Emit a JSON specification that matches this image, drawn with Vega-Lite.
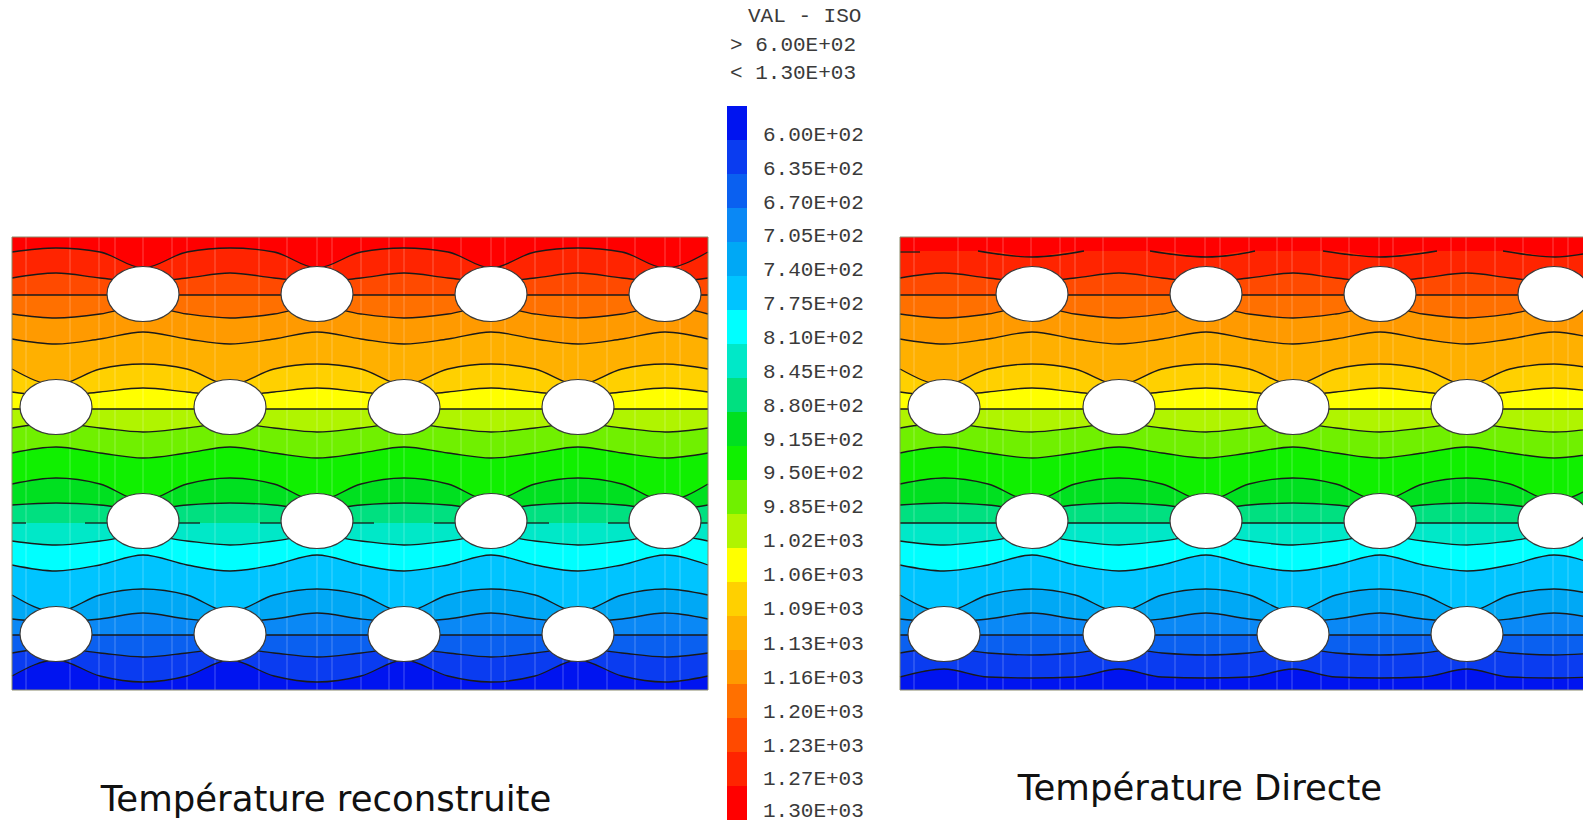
{"$schema":"https://vega.github.io/schema/vega-lite/v6.json","width":1583,"height":822,"padding":0,"autosize":{"type":"none"},"background":"white","config":{"view":{"stroke":null}},
"datasets":{
"contours":[
{"panel":"L","x":12,"c00":237,"c01":252,"c02":278,"c03":295,"c04":314,"c05":339,"c06":369,"c07":392,"c08":409,"c09":428,"c10":453,"c11":484,"c12":505,"c13":523,"c14":541,"c15":565,"c16":595,"c17":619,"c18":635,"c19":653,"c20":676},
{"panel":"L","x":56,"c00":237,"c01":248,"c02":273,"c03":295,"c04":318,"c05":344,"c06":385,"c07":396,"c08":409,"c09":423,"c10":447,"c11":478,"c12":503,"c13":523,"c14":545,"c15":571,"c16":612,"c17":622,"c18":635,"c19":648,"c20":660},
{"panel":"L","x":100,"c00":237,"c01":252,"c02":278,"c03":295,"c04":314,"c05":339,"c06":369,"c07":392,"c08":409,"c09":428,"c10":453,"c11":484,"c12":505,"c13":523,"c14":541,"c15":565,"c16":595,"c17":619,"c18":635,"c19":653,"c20":676},
{"panel":"L","x":143,"c00":237,"c01":268,"c02":282,"c03":295,"c04":306,"c05":332,"c06":364,"c07":388,"c08":409,"c09":432,"c10":458,"c11":501,"c12":510,"c13":523,"c14":535,"c15":555,"c16":589,"c17":613,"c18":635,"c19":657,"c20":682},
{"panel":"L","x":187,"c00":237,"c01":252,"c02":278,"c03":295,"c04":314,"c05":339,"c06":369,"c07":392,"c08":409,"c09":428,"c10":453,"c11":484,"c12":505,"c13":523,"c14":541,"c15":565,"c16":595,"c17":619,"c18":635,"c19":653,"c20":676},
{"panel":"L","x":230,"c00":237,"c01":248,"c02":273,"c03":295,"c04":318,"c05":344,"c06":385,"c07":396,"c08":409,"c09":423,"c10":447,"c11":478,"c12":503,"c13":523,"c14":545,"c15":571,"c16":612,"c17":622,"c18":635,"c19":648,"c20":660},
{"panel":"L","x":274,"c00":237,"c01":252,"c02":278,"c03":295,"c04":314,"c05":339,"c06":369,"c07":392,"c08":409,"c09":428,"c10":453,"c11":484,"c12":505,"c13":523,"c14":541,"c15":565,"c16":595,"c17":619,"c18":635,"c19":653,"c20":676},
{"panel":"L","x":317,"c00":237,"c01":268,"c02":282,"c03":295,"c04":306,"c05":332,"c06":364,"c07":388,"c08":409,"c09":432,"c10":458,"c11":501,"c12":510,"c13":523,"c14":535,"c15":555,"c16":589,"c17":613,"c18":635,"c19":657,"c20":682},
{"panel":"L","x":361,"c00":237,"c01":252,"c02":278,"c03":295,"c04":314,"c05":339,"c06":369,"c07":392,"c08":409,"c09":428,"c10":453,"c11":484,"c12":505,"c13":523,"c14":541,"c15":565,"c16":595,"c17":619,"c18":635,"c19":653,"c20":676},
{"panel":"L","x":404,"c00":237,"c01":248,"c02":273,"c03":295,"c04":318,"c05":344,"c06":385,"c07":396,"c08":409,"c09":423,"c10":447,"c11":478,"c12":503,"c13":523,"c14":545,"c15":571,"c16":612,"c17":622,"c18":635,"c19":648,"c20":660},
{"panel":"L","x":448,"c00":237,"c01":252,"c02":278,"c03":295,"c04":314,"c05":339,"c06":369,"c07":392,"c08":409,"c09":428,"c10":453,"c11":484,"c12":505,"c13":523,"c14":541,"c15":565,"c16":595,"c17":619,"c18":635,"c19":653,"c20":676},
{"panel":"L","x":491,"c00":237,"c01":268,"c02":282,"c03":295,"c04":306,"c05":332,"c06":364,"c07":388,"c08":409,"c09":432,"c10":458,"c11":501,"c12":510,"c13":523,"c14":535,"c15":555,"c16":589,"c17":613,"c18":635,"c19":657,"c20":682},
{"panel":"L","x":535,"c00":237,"c01":252,"c02":278,"c03":295,"c04":314,"c05":339,"c06":369,"c07":392,"c08":409,"c09":428,"c10":453,"c11":484,"c12":505,"c13":523,"c14":541,"c15":565,"c16":595,"c17":619,"c18":635,"c19":653,"c20":676},
{"panel":"L","x":578,"c00":237,"c01":248,"c02":273,"c03":295,"c04":318,"c05":344,"c06":385,"c07":396,"c08":409,"c09":423,"c10":447,"c11":478,"c12":503,"c13":523,"c14":545,"c15":571,"c16":612,"c17":622,"c18":635,"c19":648,"c20":660},
{"panel":"L","x":622,"c00":237,"c01":252,"c02":278,"c03":295,"c04":314,"c05":339,"c06":369,"c07":392,"c08":409,"c09":428,"c10":453,"c11":484,"c12":505,"c13":523,"c14":541,"c15":565,"c16":595,"c17":619,"c18":635,"c19":653,"c20":676},
{"panel":"L","x":665,"c00":237,"c01":268,"c02":282,"c03":295,"c04":306,"c05":332,"c06":364,"c07":388,"c08":409,"c09":432,"c10":458,"c11":501,"c12":510,"c13":523,"c14":535,"c15":555,"c16":589,"c17":613,"c18":635,"c19":657,"c20":682},
{"panel":"L","x":708,"c00":237,"c01":252,"c02":278,"c03":295,"c04":314,"c05":339,"c06":369,"c07":392,"c08":409,"c09":428,"c10":453,"c11":484,"c12":505,"c13":523,"c14":541,"c15":565,"c16":595,"c17":619,"c18":635,"c19":653,"c20":676},
{"panel":"R","x":900,"c00":237,"c01":251,"c02":278,"c03":295,"c04":314,"c05":339,"c06":369,"c07":392,"c08":409,"c09":428,"c10":453,"c11":484,"c12":505,"c13":523,"c14":541,"c15":565,"c16":595,"c17":619,"c18":635,"c19":653,"c20":677},
{"panel":"R","x":944,"c00":237,"c01":251,"c02":273,"c03":295,"c04":318,"c05":344,"c06":385,"c07":396,"c08":409,"c09":423,"c10":447,"c11":478,"c12":503,"c13":523,"c14":545,"c15":571,"c16":612,"c17":622,"c18":635,"c19":648,"c20":669},
{"panel":"R","x":988,"c00":237,"c01":251,"c02":278,"c03":295,"c04":314,"c05":339,"c06":369,"c07":392,"c08":409,"c09":428,"c10":453,"c11":484,"c12":505,"c13":523,"c14":541,"c15":565,"c16":595,"c17":619,"c18":635,"c19":653,"c20":677},
{"panel":"R","x":1032,"c00":237,"c01":257,"c02":282,"c03":295,"c04":306,"c05":332,"c06":364,"c07":388,"c08":409,"c09":432,"c10":458,"c11":501,"c12":510,"c13":523,"c14":535,"c15":555,"c16":589,"c17":613,"c18":635,"c19":655,"c20":678},
{"panel":"R","x":1075,"c00":237,"c01":251,"c02":278,"c03":295,"c04":314,"c05":339,"c06":369,"c07":392,"c08":409,"c09":428,"c10":453,"c11":484,"c12":505,"c13":523,"c14":541,"c15":565,"c16":595,"c17":619,"c18":635,"c19":653,"c20":677},
{"panel":"R","x":1119,"c00":237,"c01":251,"c02":273,"c03":295,"c04":318,"c05":344,"c06":385,"c07":396,"c08":409,"c09":423,"c10":447,"c11":478,"c12":503,"c13":523,"c14":545,"c15":571,"c16":612,"c17":622,"c18":635,"c19":648,"c20":669},
{"panel":"R","x":1162,"c00":237,"c01":251,"c02":278,"c03":295,"c04":314,"c05":339,"c06":369,"c07":392,"c08":409,"c09":428,"c10":453,"c11":484,"c12":505,"c13":523,"c14":541,"c15":565,"c16":595,"c17":619,"c18":635,"c19":653,"c20":677},
{"panel":"R","x":1206,"c00":237,"c01":257,"c02":282,"c03":295,"c04":306,"c05":332,"c06":364,"c07":388,"c08":409,"c09":432,"c10":458,"c11":501,"c12":510,"c13":523,"c14":535,"c15":555,"c16":589,"c17":613,"c18":635,"c19":655,"c20":678},
{"panel":"R","x":1249,"c00":237,"c01":251,"c02":278,"c03":295,"c04":314,"c05":339,"c06":369,"c07":392,"c08":409,"c09":428,"c10":453,"c11":484,"c12":505,"c13":523,"c14":541,"c15":565,"c16":595,"c17":619,"c18":635,"c19":653,"c20":677},
{"panel":"R","x":1293,"c00":237,"c01":251,"c02":273,"c03":295,"c04":318,"c05":344,"c06":385,"c07":396,"c08":409,"c09":423,"c10":447,"c11":478,"c12":503,"c13":523,"c14":545,"c15":571,"c16":612,"c17":622,"c18":635,"c19":648,"c20":669},
{"panel":"R","x":1336,"c00":237,"c01":251,"c02":278,"c03":295,"c04":314,"c05":339,"c06":369,"c07":392,"c08":409,"c09":428,"c10":453,"c11":484,"c12":505,"c13":523,"c14":541,"c15":565,"c16":595,"c17":619,"c18":635,"c19":653,"c20":677},
{"panel":"R","x":1380,"c00":237,"c01":257,"c02":282,"c03":295,"c04":306,"c05":332,"c06":364,"c07":388,"c08":409,"c09":432,"c10":458,"c11":501,"c12":510,"c13":523,"c14":535,"c15":555,"c16":589,"c17":613,"c18":635,"c19":655,"c20":678},
{"panel":"R","x":1423,"c00":237,"c01":251,"c02":278,"c03":295,"c04":314,"c05":339,"c06":369,"c07":392,"c08":409,"c09":428,"c10":453,"c11":484,"c12":505,"c13":523,"c14":541,"c15":565,"c16":595,"c17":619,"c18":635,"c19":653,"c20":677},
{"panel":"R","x":1467,"c00":237,"c01":251,"c02":273,"c03":295,"c04":318,"c05":344,"c06":385,"c07":396,"c08":409,"c09":423,"c10":447,"c11":478,"c12":503,"c13":523,"c14":545,"c15":571,"c16":612,"c17":622,"c18":635,"c19":648,"c20":669},
{"panel":"R","x":1510,"c00":237,"c01":251,"c02":278,"c03":295,"c04":314,"c05":339,"c06":369,"c07":392,"c08":409,"c09":428,"c10":453,"c11":484,"c12":505,"c13":523,"c14":541,"c15":565,"c16":595,"c17":619,"c18":635,"c19":653,"c20":677},
{"panel":"R","x":1554,"c00":237,"c01":257,"c02":282,"c03":295,"c04":306,"c05":332,"c06":364,"c07":388,"c08":409,"c09":432,"c10":458,"c11":501,"c12":510,"c13":523,"c14":535,"c15":555,"c16":589,"c17":613,"c18":635,"c19":655,"c20":678},
{"panel":"R","x":1597,"c00":237,"c01":251,"c02":278,"c03":295,"c04":314,"c05":339,"c06":369,"c07":392,"c08":409,"c09":428,"c10":453,"c11":484,"c12":505,"c13":523,"c14":541,"c15":565,"c16":595,"c17":619,"c18":635,"c19":653,"c20":677}
],
"segments":[
{"seg":"a1","x":12,"y":523},{"seg":"a1","x":26,"y":523},{"seg":"a2","x":85,"y":523},{"seg":"a2","x":108,"y":523},{"seg":"a3","x":178,"y":523},{"seg":"a3","x":200,"y":523},{"seg":"a4","x":260,"y":523},{"seg":"a4","x":282,"y":523},{"seg":"a5","x":352,"y":523},{"seg":"a5","x":374,"y":523},{"seg":"a6","x":434,"y":523},{"seg":"a6","x":456,"y":523},{"seg":"a7","x":527,"y":523},{"seg":"a7","x":549,"y":523},{"seg":"a8","x":608,"y":523},{"seg":"a8","x":630,"y":523},{"seg":"a9","x":701,"y":523},{"seg":"a9","x":708,"y":523},
{"seg":"b","x":900,"y":523},{"seg":"b","x":1583,"y":523},
{"seg":"d0","x":900,"y":252},{"seg":"d0","x":920,"y":252},
{"seg":"d1","x":978,"y":251},{"seg":"d1","x":1005,"y":255},{"seg":"d1","x":1032,"y":257},{"seg":"d1","x":1059,"y":255},{"seg":"d1","x":1084,"y":251},
{"seg":"d2","x":1150,"y":251},{"seg":"d2","x":1178,"y":255},{"seg":"d2","x":1206,"y":257},{"seg":"d2","x":1233,"y":255},{"seg":"d2","x":1255,"y":251},
{"seg":"d3","x":1323,"y":251},{"seg":"d3","x":1352,"y":255},{"seg":"d3","x":1380,"y":257},{"seg":"d3","x":1409,"y":255},{"seg":"d3","x":1437,"y":251},
{"seg":"d4","x":1503,"y":251},{"seg":"d4","x":1530,"y":255},{"seg":"d4","x":1555,"y":257},{"seg":"d4","x":1583,"y":254}
],
"holes":[
{"x":143,"y":294},{"x":317,"y":294},{"x":491,"y":294},{"x":665,"y":294},
{"x":56,"y":407},{"x":230,"y":407},{"x":404,"y":407},{"x":578,"y":407},
{"x":143,"y":521},{"x":317,"y":521},{"x":491,"y":521},{"x":665,"y":521},
{"x":56,"y":634},{"x":230,"y":634},{"x":404,"y":634},{"x":578,"y":634},
{"x":1032,"y":294},{"x":1206,"y":294},{"x":1380,"y":294},{"x":1554,"y":294},
{"x":944,"y":407},{"x":1119,"y":407},{"x":1293,"y":407},{"x":1467,"y":407},
{"x":1032,"y":521},{"x":1206,"y":521},{"x":1380,"y":521},{"x":1554,"y":521},
{"x":944,"y":634},{"x":1119,"y":634},{"x":1293,"y":634},{"x":1467,"y":634}
],
"mesh":[{"x":26},{"x":70},{"x":99},{"x":115},{"x":143},{"x":172},{"x":187},{"x":215},{"x":259},{"x":287},{"x":317},{"x":332},{"x":361},{"x":389},{"x":404},{"x":433},{"x":461},{"x":491},{"x":505},{"x":535},{"x":563},{"x":578},{"x":607},{"x":635},{"x":665},{"x":680},
{"x":914},{"x":958},{"x":987},{"x":1003},{"x":1031},{"x":1060},{"x":1075},{"x":1103},{"x":1147},{"x":1175},{"x":1205},{"x":1220},{"x":1249},{"x":1277},{"x":1292},{"x":1321},{"x":1349},{"x":1379},{"x":1393},{"x":1423},{"x":1451},{"x":1466},{"x":1495},{"x":1523},{"x":1553},{"x":1568}],
"frames":[{"x":12,"x2":708,"y":237,"y2":690},{"x":900,"x2":1584,"y":237,"y2":690}],
"legend":[
{"level":"c20","label":"6.00E+02","y":135,"top":106,"bottom":140},
{"level":"c19","label":"6.35E+02","y":169,"top":140,"bottom":174},
{"level":"c18","label":"6.70E+02","y":203,"top":174,"bottom":208},
{"level":"c17","label":"7.05E+02","y":236,"top":208,"bottom":242},
{"level":"c16","label":"7.40E+02","y":270,"top":242,"bottom":276},
{"level":"c15","label":"7.75E+02","y":304,"top":276,"bottom":310},
{"level":"c14","label":"8.10E+02","y":338,"top":310,"bottom":344},
{"level":"c13","label":"8.45E+02","y":372,"top":344,"bottom":378},
{"level":"c12","label":"8.80E+02","y":406,"top":378,"bottom":412},
{"level":"c11","label":"9.15E+02","y":440,"top":412,"bottom":446},
{"level":"c10","label":"9.50E+02","y":473,"top":446,"bottom":480},
{"level":"c09","label":"9.85E+02","y":507,"top":480,"bottom":514},
{"level":"c08","label":"1.02E+03","y":541,"top":514,"bottom":548},
{"level":"c07","label":"1.06E+03","y":575,"top":548,"bottom":582},
{"level":"c06","label":"1.09E+03","y":609,"top":582,"bottom":616},
{"level":"c05","label":"1.13E+03","y":644,"top":616,"bottom":650},
{"level":"c04","label":"1.16E+03","y":678,"top":650,"bottom":684},
{"level":"c03","label":"1.20E+03","y":712,"top":684,"bottom":718},
{"level":"c02","label":"1.23E+03","y":746,"top":718,"bottom":752},
{"level":"c01","label":"1.27E+03","y":779,"top":752,"bottom":786},
{"level":"c00","label":"1.30E+03","y":811,"top":786,"bottom":820}
],
"header":[{"x":748,"y":16,"label":"VAL - ISO"},{"x":730,"y":45,"label":"> 6.00E+02"},{"x":730,"y":73,"label":"< 1.30E+03"}],
"titles":[{"x":326,"y":800,"label":"Température reconstruite"},{"x":1200,"y":789,"label":"Température Directe"}]
},
"layer":[
{"data":{"name":"contours"},
"transform":[{"fold":["c00","c01","c02","c03","c04","c05","c06","c07","c08","c09","c10","c11","c12","c13","c14","c15","c16","c17","c18","c19","c20"],"as":["level","y"]}],
"mark":{"type":"area","interpolate":"monotone","clip":true},
"encoding":{"x":{"field":"x","type":"quantitative","axis":null,"scale":{"domain":[0,1583],"nice":false,"zero":false}},"y":{"field":"y","type":"quantitative","axis":null,"scale":{"domain":[822,0],"nice":false,"zero":false}},"y2":{"datum":690},"detail":{"field":"panel"},
"color":{"field":"level","type":"nominal","legend":null,"scale":{"domain":["c00","c01","c02","c03","c04","c05","c06","c07","c08","c09","c10","c11","c12","c13","c14","c15","c16","c17","c18","c19","c20"],"range":["#ff0000","#ff2400","#ff4a00","#ff7000","#ff9a00","#ffb000","#ffd000","#ffff00","#b0f400","#70f000","#10f000","#00e020","#00e080","#00e8c8","#00ffff","#00c4ff","#00a8f5","#0a88f5","#0a60f0","#0a3cf0","#0014f0"]}}}},
{"data":{"name":"mesh"},"mark":{"type":"rule","color":"white","opacity":0.28,"strokeWidth":1},
"encoding":{"x":{"field":"x","type":"quantitative","axis":null,"scale":{"domain":[0,1583],"nice":false,"zero":false}},"y":{"datum":237,"type":"quantitative","axis":null,"scale":{"domain":[822,0],"nice":false,"zero":false}},"y2":{"datum":690}}},
{"data":{"name":"contours"},
"transform":[{"fold":["c01","c02","c03","c04","c05","c06","c07","c08","c09","c10","c11","c12","c14","c15","c16","c17","c18","c19","c20"],"as":["level","y"]},{"filter":"!(datum.panel==='R'&&datum.level==='c01')"}],
"mark":{"type":"line","interpolate":"monotone","clip":true,"color":"#1a1a1a","strokeWidth":1.3},
"encoding":{"x":{"field":"x","type":"quantitative","axis":null,"scale":{"domain":[0,1583],"nice":false,"zero":false}},"y":{"field":"y","type":"quantitative","axis":null,"scale":{"domain":[822,0],"nice":false,"zero":false}},"detail":[{"field":"panel"},{"field":"level"}]}},
{"data":{"name":"segments"},
"mark":{"type":"line","interpolate":"monotone","clip":true,"color":"#1a1a1a","strokeWidth":1.3},
"encoding":{"x":{"field":"x","type":"quantitative","axis":null,"scale":{"domain":[0,1583],"nice":false,"zero":false}},"y":{"field":"y","type":"quantitative","axis":null,"scale":{"domain":[822,0],"nice":false,"zero":false}},"detail":{"field":"seg"}}},
{"data":{"name":"frames"},"mark":{"type":"rect","fill":null,"stroke":"#8a8a6a","strokeWidth":1},
"encoding":{"x":{"field":"x","type":"quantitative","axis":null,"scale":{"domain":[0,1583],"nice":false,"zero":false}},"y":{"field":"y","type":"quantitative","axis":null,"scale":{"domain":[822,0],"nice":false,"zero":false}},"x2":{"field":"x2"},"y2":{"field":"y2"}}},
{"data":{"name":"holes"},"mark":{"type":"point","shape":"M -1 0 A 1 0.764 0 1 1 1 0 A 1 0.764 0 1 1 -1 0 Z","size":5184,"filled":true,"fill":"white","stroke":"#3a3a3a","strokeWidth":1.2,"opacity":1},
"encoding":{"x":{"field":"x","type":"quantitative","axis":null,"scale":{"domain":[0,1583],"nice":false,"zero":false}},"y":{"field":"y","type":"quantitative","axis":null,"scale":{"domain":[822,0],"nice":false,"zero":false}}}},
{"data":{"name":"legend"},"mark":{"type":"rect"},
"encoding":{"x":{"datum":727,"type":"quantitative","axis":null,"scale":{"domain":[0,1583],"nice":false,"zero":false}},"x2":{"datum":747},
"y":{"field":"top","type":"quantitative","axis":null,"scale":{"domain":[822,0],"nice":false,"zero":false}},"y2":{"field":"bottom"},
"color":{"field":"level","type":"nominal","legend":null,"scale":{"domain":["c00","c01","c02","c03","c04","c05","c06","c07","c08","c09","c10","c11","c12","c13","c14","c15","c16","c17","c18","c19","c20"],"range":["#ff0000","#ff2400","#ff4a00","#ff7000","#ff9a00","#ffb000","#ffd000","#ffff00","#b0f400","#70f000","#10f000","#00e020","#00e080","#00e8c8","#00ffff","#00c4ff","#00a8f5","#0a88f5","#0a60f0","#0a3cf0","#0014f0"]}}}},
{"data":{"name":"legend"},"mark":{"type":"text","align":"left","baseline":"middle","font":"Liberation Mono","fontSize":21,"color":"#3a3a3a"},
"encoding":{"x":{"datum":763,"type":"quantitative","axis":null,"scale":{"domain":[0,1583],"nice":false,"zero":false}},"y":{"field":"y","type":"quantitative","axis":null,"scale":{"domain":[822,0],"nice":false,"zero":false}},"text":{"field":"label"}}},
{"data":{"name":"header"},"mark":{"type":"text","align":"left","baseline":"middle","font":"Liberation Mono","fontSize":21,"color":"#3a3a3a"},
"encoding":{"x":{"field":"x","type":"quantitative","axis":null,"scale":{"domain":[0,1583],"nice":false,"zero":false}},"y":{"field":"y","type":"quantitative","axis":null,"scale":{"domain":[822,0],"nice":false,"zero":false}},"text":{"field":"label"}}},
{"data":{"name":"titles"},"mark":{"type":"text","align":"center","baseline":"middle","font":"DejaVu Sans","fontSize":35.5,"color":"#111111"},
"encoding":{"x":{"field":"x","type":"quantitative","axis":null,"scale":{"domain":[0,1583],"nice":false,"zero":false}},"y":{"field":"y","type":"quantitative","axis":null,"scale":{"domain":[822,0],"nice":false,"zero":false}},"text":{"field":"label"}}}
]}
